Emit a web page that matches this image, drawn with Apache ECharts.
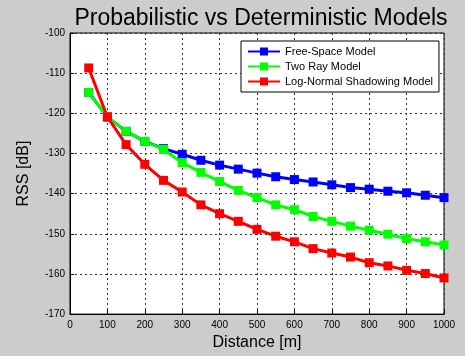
<!DOCTYPE html>
<html>
<head>
<meta charset="utf-8">
<script src="https://cdn.jsdelivr.net/npm/echarts@6/dist/echarts.min.js"></script>
<style>
  html, body { margin: 0; padding: 0; background: #cccccc; }
  #chart { width: 465px; height: 356px; }
</style>
</head>
<body>
<div id="chart"></div>
<script>
const distances = [50, 100, 150, 200, 250, 300, 350, 400, 450, 500, 550, 600, 650, 700, 750, 800, 850, 900, 950, 1000];
const freeSpace = [-114.8, -120.9, -124.5, -127.0, -128.8, -130.2, -131.7, -132.9, -133.9, -134.9, -135.8, -136.5, -137.1, -137.8, -138.5, -138.9, -139.4, -139.8, -140.4, -141.0];
const twoRay = [-114.8, -120.9, -124.5, -127.0, -129.0, -132.3, -134.7, -137.0, -139.2, -141.0, -142.8, -144.0, -145.7, -146.9, -148.1, -149.1, -150.1, -151.2, -152.0, -152.8];
const logNormal = [-108.7, -120.9, -127.8, -132.7, -136.7, -139.6, -142.8, -145.0, -146.9, -148.9, -150.6, -152.0, -153.7, -154.8, -155.8, -157.2, -158.0, -159.1, -159.9, -161.0];
const seriesNames = ["Free-Space Model", "Two Ray Model", "Log-Normal Shadowing Model"];

const chart = echarts.init(document.getElementById("chart"));

function pairs(ys) {
  return distances.map((d, i) => [d, ys[i]]);
}

function makeSeries(name, ys, color) {
  return {
    name: name,
    type: "line",
    data: pairs(ys),
    symbol: "rect",
    symbolSize: 9,
    lineStyle: { color: color, width: 3 },
    itemStyle: { color: color },
    animation: false,
  };
}

const option = {
  backgroundColor: "#cccccc",
  title: {
    text: "Probabilistic vs Deterministic Models",
    left: 256,
    textAlign: "center",
    top: 2,
    textStyle: { fontFamily: "Liberation Sans", fontSize: 23, fontWeight: "normal", color: "#000" },
  },
  legend: {
    data: seriesNames,
    orient: "vertical",
    left: 241,
    top: 41,
    itemWidth: 32,
    itemHeight: 10,
    itemGap: 4,
    padding: [5, 6, 5, 6],
    backgroundColor: "#ffffff",
    borderColor: "#000",
    borderWidth: 1,
    textStyle: { fontFamily: "Liberation Sans", fontSize: 11, color: "#000" },
  },
  grid: {
    left: 70,
    right: 21,
    top: 33,
    bottom: 36,
    show: true,
    backgroundColor: "#ffffff",
    borderColor: "#000",
    borderWidth: 1,
  },
  xAxis: {
    type: "value",
    min: 0,
    max: 1000,
    interval: 100,
    name: "Distance [m]",
    nameLocation: "middle",
    nameGap: 19,
    nameTextStyle: { fontFamily: "Liberation Sans", fontSize: 16, color: "#000" },
    axisLine: { lineStyle: { color: "#000" } },
    axisTick: { inside: true, length: 4, lineStyle: { color: "#000" } },
    axisLabel: { fontFamily: "Liberation Sans", fontSize: 10, color: "#000", margin: 6, formatter: (v) => String(v) },
    splitLine: { show: true, lineStyle: { color: "#333", type: [2, 3], width: 1 } },
  },
  yAxis: {
    type: "value",
    min: -170,
    max: -100,
    interval: 10,
    name: "RSS [dB]",
    nameLocation: "middle",
    nameGap: 38,
    nameTextStyle: { fontFamily: "Liberation Sans", fontSize: 16, color: "#000" },
    axisLine: { show: true, lineStyle: { color: "#000" } },
    axisTick: { show: true, inside: true, length: 4, lineStyle: { color: "#000" } },
    axisLabel: { fontFamily: "Liberation Sans", fontSize: 10, color: "#000", margin: 5 },
    splitLine: { show: true, lineStyle: { color: "#333", type: [2, 3], width: 1 } },
  },
  series: [
    makeSeries(seriesNames[0], freeSpace, "#0000ff"),
    makeSeries(seriesNames[1], twoRay, "#00ff00"),
    makeSeries(seriesNames[2], logNormal, "#ff0000"),
  ],
};

chart.setOption(option);
</script>
</body>
</html>
